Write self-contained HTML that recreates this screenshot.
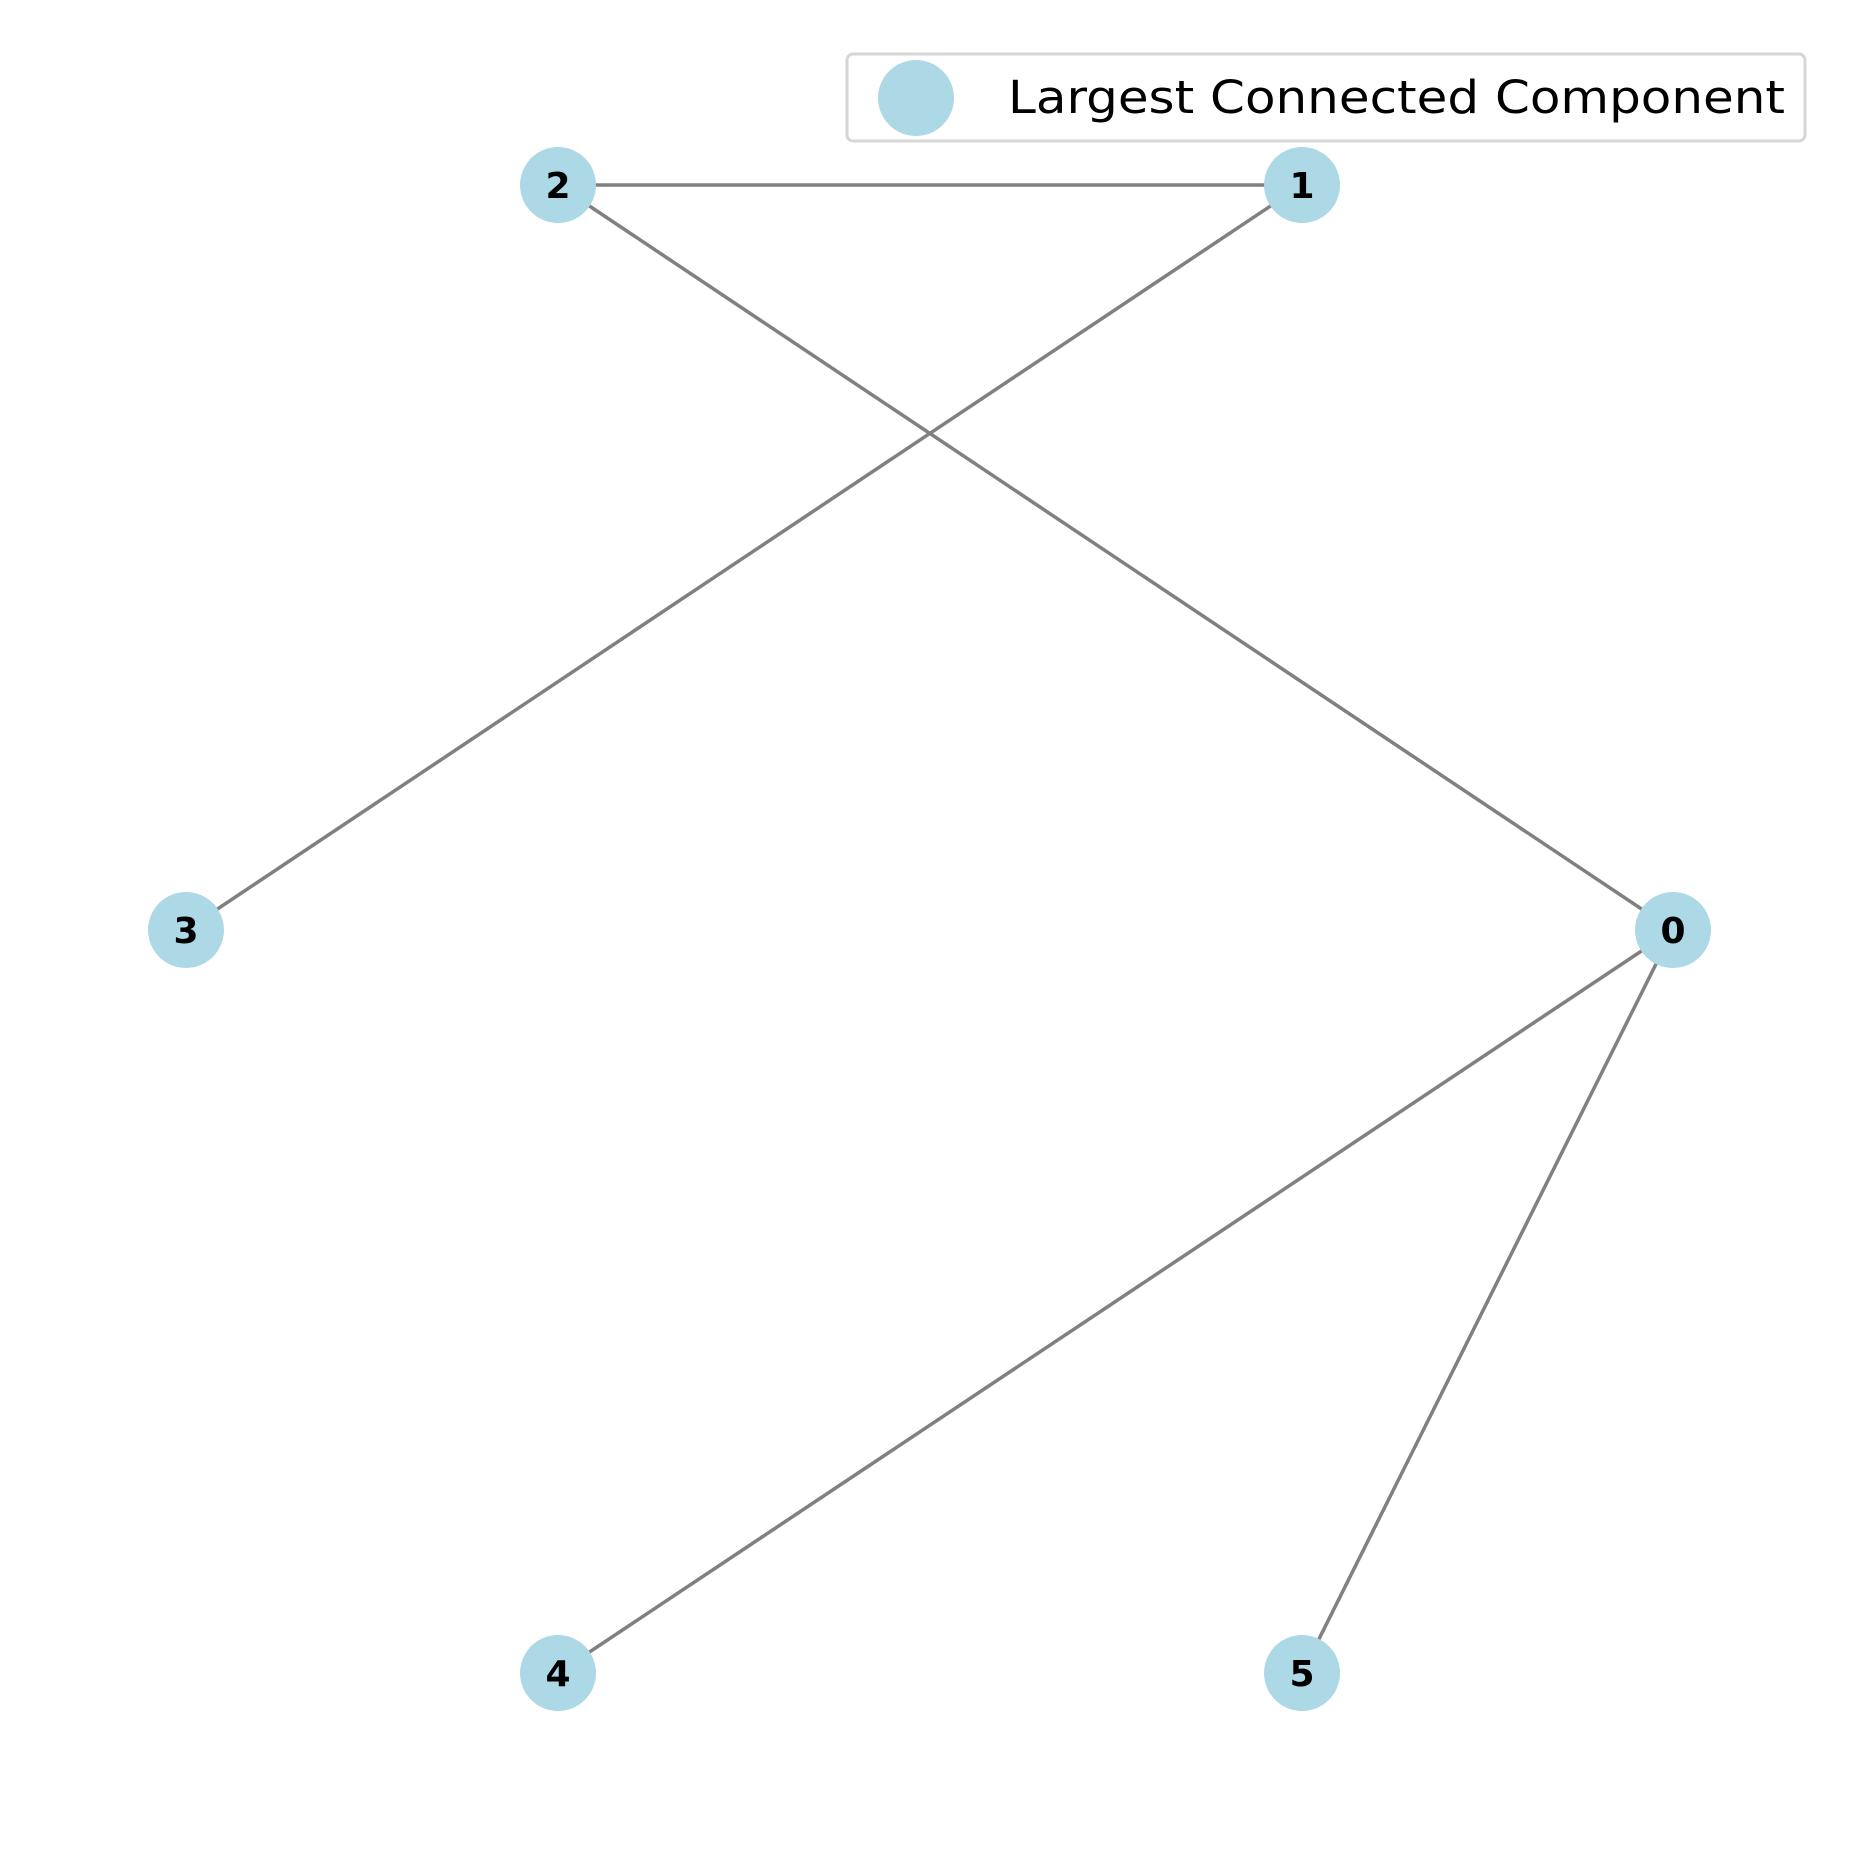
<!DOCTYPE html>
<html><head><meta charset="utf-8"><style>html,body{margin:0;padding:0;background:#fff}svg{display:block}</style></head>
<body>
<svg width="1859" height="1859" viewBox="0 0 1859 1859" xmlns="http://www.w3.org/2000/svg">
<g stroke="#808080" stroke-width="3.5">
<line x1="558" y1="185" x2="1302" y2="185"/>
<line x1="558" y1="185" x2="1673" y2="930"/>
<line x1="1302" y1="185" x2="186" y2="930"/>
<line x1="1673" y1="930" x2="558" y2="1673"/>
<line x1="1673" y1="930" x2="1302" y2="1673"/>
</g>
<g fill="#ADD8E6">
<circle cx="558" cy="185" r="38"/>
<circle cx="1302" cy="185" r="38"/>
<circle cx="186" cy="930" r="38"/>
<circle cx="1673" cy="930" r="38"/>
<circle cx="558" cy="1673" r="38"/>
<circle cx="1302" cy="1673" r="38"/>
</g>
<g font-family="'DejaVu Sans','Liberation Sans',sans-serif" font-weight="bold" font-size="36" text-anchor="middle" fill="#000">
<text x="558" y="198">2</text>
<text x="1302" y="198">1</text>
<text x="186" y="943">3</text>
<text x="1673" y="943">0</text>
<text x="558" y="1686">4</text>
<text x="1302" y="1686">5</text>
</g>
<rect x="847" y="54" width="958" height="87" rx="6" fill="#fff" stroke="#d6d6d6" stroke-width="3"/>
<circle cx="916" cy="98" r="38" fill="#ADD8E6"/>
<text x="1008" y="113" font-family="'DejaVu Sans','Liberation Sans',sans-serif" font-size="45" textLength="777" lengthAdjust="spacingAndGlyphs" fill="#000">Largest Connected Component</text>
</svg>
</body></html>
